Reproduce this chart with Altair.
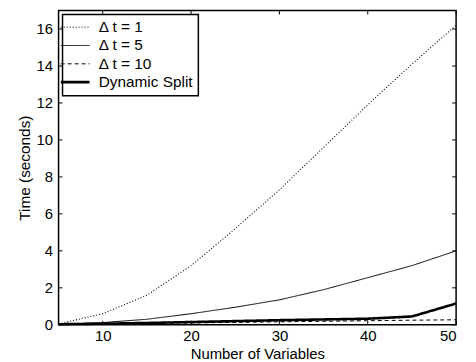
import altair as alt
import pandas as pd

n_vars = [5, 10, 15, 20, 25, 30, 35, 40, 45, 50]
dt1 = [0.05, 0.6, 1.6, 3.2, 5.2, 7.3, 9.6, 11.9, 14.1, 16.2]
dt5 = [0.02, 0.12, 0.3, 0.6, 0.95, 1.35, 1.9, 2.55, 3.2, 4.0]
dt10 = [0.02, 0.04, 0.07, 0.1, 0.13, 0.16, 0.19, 0.22, 0.25, 0.27]
dyn = [0.03, 0.06, 0.1, 0.15, 0.2, 0.25, 0.29, 0.33, 0.45, 1.15]

series_names = ["\u0394 t = 1", "\u0394 t = 5", "\u0394 t = 10", "Dynamic Split"]
series_vals = [dt1, dt5, dt10, dyn]
dashes = [[1, 2], [1, 0], [4, 3], [1, 0]]
widths = [1.1, 1, 1, 2.6]

x_ticks = [10, 20, 30, 40, 50]
y_ticks = [0, 2, 4, 6, 8, 10, 12, 14, 16]

rows = []
for name, vals, w in zip(series_names, series_vals, widths):
    for x, y in zip(n_vars, vals):
        rows.append({"n": x, "t": y, "series": name, "w": w})
df = pd.DataFrame(rows)

W, H = 401, 317
FONT = "Liberation Sans"

xs = alt.Scale(domain=[5, 50], nice=False, zero=False)
ys = alt.Scale(domain=[0, 17], nice=False)

x_axis = alt.Axis(values=x_ticks, ticks=False, grid=False, domain=False,
                  labelFontSize=15, labelPadding=4, titleFontSize=15,
                  titlePadding=3, labelColor="black", titleColor="black",
                  titleFontWeight="normal", labelFont=FONT, titleFont=FONT,
                  labelOverlap=False, title="Number of Variables")
y_axis = alt.Axis(values=y_ticks, ticks=False, grid=False, domain=False,
                  labelFontSize=15, labelPadding=6, titleFontSize=15.5,
                  titlePadding=4, labelColor="black", titleColor="black",
                  titleFontWeight="normal", labelFont=FONT, titleFont=FONT,
                  labelOverlap=False, title="Time (seconds)")

lines = alt.Chart(df).mark_line(color="black").encode(
    x=alt.X("n:Q", scale=xs, axis=x_axis, title="Number of Variables"),
    y=alt.Y("t:Q", scale=ys, axis=y_axis, title="Time (seconds)"),
    strokeDash=alt.StrokeDash("series:N",
                              scale=alt.Scale(domain=series_names, range=dashes),
                              legend=alt.Legend(
                                  title=None,
                                  symbolStrokeWidth=alt.ExprRef(
                                      expr="datum.value === 'Dynamic Split' ? 2.6 : 1"))),
    strokeWidth=alt.StrokeWidth("w:Q", scale=None, legend=None),
    detail="series:N",
)

xt = pd.DataFrame({"v": x_ticks})
yt = pd.DataFrame({"v": y_ticks})

xt_bot = alt.Chart(xt).mark_rule(color="black", strokeWidth=1).encode(
    x=alt.X("v:Q", scale=xs, axis=x_axis, title="Number of Variables"),
    y=alt.value(H), y2=alt.value(H - 4))
xt_top = alt.Chart(xt).mark_rule(color="black", strokeWidth=1).encode(
    x=alt.X("v:Q", scale=xs, axis=x_axis, title="Number of Variables"),
    y=alt.value(0), y2=alt.value(4))
yt_left = alt.Chart(yt).mark_rule(color="black", strokeWidth=1).encode(
    y=alt.Y("v:Q", scale=ys, axis=y_axis, title="Time (seconds)"),
    x=alt.value(0), x2=alt.value(4))
yt_right = alt.Chart(yt).mark_rule(color="black", strokeWidth=1).encode(
    y=alt.Y("v:Q", scale=ys, axis=y_axis, title="Time (seconds)"),
    x=alt.value(W), x2=alt.value(W - 4))

chart = alt.layer(lines, xt_bot, xt_top, yt_left, yt_right).properties(
    width=W, height=H,
    autosize=alt.AutoSizeParams(type="none"),
    padding={"left": 51, "top": 1, "right": 12, "bottom": 40},
).configure_view(
    stroke="black", strokeWidth=1.5
).configure_legend(
    orient="top-left", offset=4, strokeColor="black", fillColor="white",
    padding=5, symbolType="stroke", symbolSize=841, symbolStrokeColor="black",
    labelFontSize=15.5, labelFont=FONT, labelColor="black", labelOffset=16,
    rowPadding=1.5, cornerRadius=0, strokeWidth=1.5, labelLimit=250
)

chart.save("out.html", embed_options={"renderer": "svg", "actions": False})
